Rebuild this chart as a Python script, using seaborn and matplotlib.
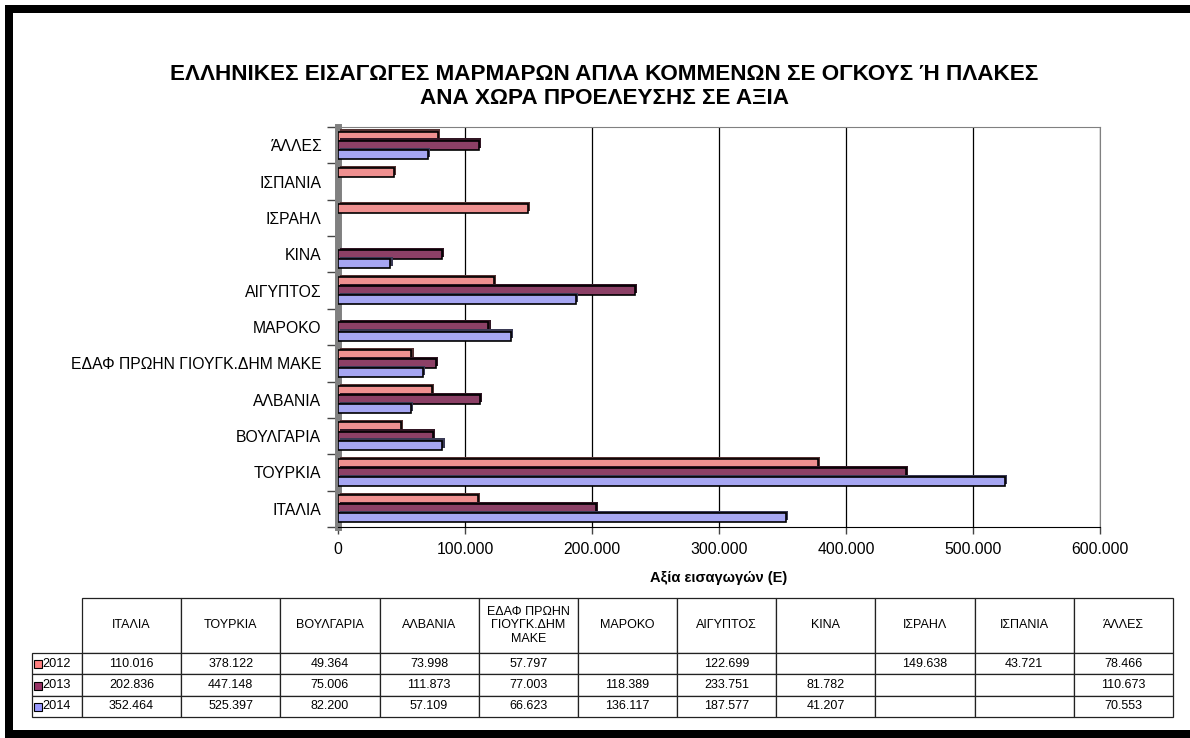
import numpy as np
import pandas as pd
import seaborn as sns
import matplotlib
matplotlib.use('Agg')
import matplotlib.pyplot as plt
import matplotlib.patheffects as pe
from matplotlib.patches import Rectangle
from matplotlib.ticker import FuncFormatter, FixedLocator

# data (from the table under the chart)
countries = ['ΙΤΑΛΙΑ', 'ΤΟΥΡΚΙΑ', 'ΒΟΥΛΓΑΡΙΑ', 'ΑΛΒΑΝΙΑ', 'ΕΔΑΦ ΠΡΩΗΝ ΓΙΟΥΓΚ.ΔΗΜ ΜΑΚΕ',
             'ΜΑΡΟΚΟ', 'ΑΙΓΥΠΤΟΣ', 'ΚΙΝΑ', 'ΙΣΡΑΗΛ', 'ΙΣΠΑΝΙΑ', 'ΆΛΛΕΣ']
header_labels = ['ΙΤΑΛΙΑ', 'ΤΟΥΡΚΙΑ', 'ΒΟΥΛΓΑΡΙΑ', 'ΑΛΒΑΝΙΑ', 'ΕΔΑΦ ΠΡΩΗΝ\nΓΙΟΥΓΚ.ΔΗΜ\nΜΑΚΕ',
                 'ΜΑΡΟΚΟ', 'ΑΙΓΥΠΤΟΣ', 'ΚΙΝΑ', 'ΙΣΡΑΗΛ', 'ΙΣΠΑΝΙΑ', 'ΆΛΛΕΣ']
years = ['2012', '2013', '2014']
v2012 = [110016, 378122, 49364, 73998, 57797, None, 122699, None, 149638, 43721, 78466]
v2013 = [202836, 447148, 75006, 111873, 77003, 118389, 233751, 81782, None, None, 110673]
v2014 = [352464, 525397, 82200, 57109, 66623, 136117, 187577, 41207, None, None, 70553]
x_ticks = [0, 100000, 200000, 300000, 400000, 500000, 600000]

colors = {'2012': '#FF8080', '2013': '#993366', '2014': '#9999FF'}

rows = []
for y, vals in zip(years, [v2012, v2013, v2014]):
    for c, v in zip(countries, vals):
        rows.append({'country': c, 'year': y, 'value': np.nan if v is None else v})
df = pd.DataFrame(rows)

sns.set_style('white')
plt.rcParams['font.family'] = ['Liberation Sans', 'DejaVu Sans']
for k in ['text.color', 'axes.labelcolor', 'xtick.color', 'ytick.color']:
    plt.rcParams[k] = 'black'


def gr_fmt(v):
    return f'{int(v):,}'.replace(',', '.')


W, H = 1190, 738
fig = plt.figure(figsize=(W / 100, H / 100), dpi=100)
ax = fig.add_axes([338 / W, 1 - 527 / H, 762 / W, 400 / H])

sns.barplot(data=df, x='value', y='country', hue='year', orient='h',
            order=countries[::-1], hue_order=years, palette=colors,
            width=0.75, edgecolor='black', linewidth=1.2, errorbar=None,
            legend=False, ax=ax)

# pseudo 3D look of the excel bars
for p in ax.patches:
    p.set_zorder(3)
    p.set_path_effects([pe.SimplePatchShadow(offset=(1.6, 1.6), alpha=1, rho=0.35),
                        pe.Normal()])

ax.set_xlim(0, 600000)
ax.xaxis.set_major_locator(FixedLocator(x_ticks))
ax.xaxis.set_major_formatter(FuncFormatter(lambda v, p: gr_fmt(v)))
ax.grid(axis='x', color='black', linewidth=0.9)
ax.set_axisbelow(True)

# category boundaries as ticks (excel style)
ax.set_yticks(np.arange(len(countries) + 1) - 0.5, minor=True)
ax.tick_params(axis='y', which='major', length=0, labelsize=11.3, pad=12)
ax.tick_params(axis='y', which='minor', length=8, width=1, color='#444444', left=True)
ax.tick_params(axis='x', length=5, width=1, color='#444444', bottom=True, labelsize=11.3, pad=6)

ax.spines['left'].set_color('#808080')
ax.spines['left'].set_linewidth(5)
ax.spines['top'].set_color('#808080')
ax.spines['right'].set_color('#808080')
ax.spines['bottom'].set_color('black')
ax.set_ylabel('')
ax.set_xlabel('Αξία εισαγωγών (Ε)', fontsize=10.5, fontweight='bold', labelpad=10)

fig.text(604 / W, 1 - 75 / H, 'ΕΛΛΗΝΙΚΕΣ ΕΙΣΑΓΩΓΕΣ ΜΑΡΜΑΡΩΝ ΑΠΛΑ ΚΟΜΜΕΝΩΝ ΣΕ ΟΓΚΟΥΣ Ή ΠΛΑΚΕΣ',
         ha='center', va='center', fontsize=16.2, fontweight='bold')
fig.text(605 / W, 1 - 98 / H, 'ΑΝΑ ΧΩΡΑ ΠΡΟΕΛΕΥΣΗΣ ΣΕ ΑΞΙΑ',
         ha='center', va='center', fontsize=16.2, fontweight='bold')

# data table, first column holds the year labels, the corner cell is hidden
TW, TH = 1141, 119
tax = fig.add_axes([32 / W, 1 - 717 / H, TW / W, TH / H])
tax.axis('off')
cell_text = [[y] + ['' if v is None else gr_fmt(v) for v in vals]
             for y, vals in zip(years, [v2012, v2013, v2014])]
tbl = tax.table(cellText=cell_text, colLabels=[''] + header_labels,
                cellLoc='center', colLoc='center', bbox=[0, 0, 1, 1])
tbl.auto_set_font_size(False)
tbl.set_fontsize(9)
for (r, c), cell in tbl.get_celld().items():
    cell.set_width((50 if c == 0 else 1091 / 11) / TW)
    cell.set_height((55 if r == 0 else 64 / 3) / TH)
    cell.set_edgecolor('#222222')
    cell.set_linewidth(0.9)
    if c == 0:
        cell._loc = 'right'
        cell.get_text().set_fontsize(9.2)
        if r == 0:
            cell.set_visible(False)

# legend keys in the year cells
row_centers = [664, 685.5, 707]
for y, yc in zip(years, row_centers):
    tax.add_patch(Rectangle((2 / TW, (717 - yc - 4) / TH), 7.5 / TW, 8 / TH,
                            transform=tax.transAxes, facecolor=colors[y],
                            edgecolor='black', linewidth=0.8, clip_on=False, zorder=5))

# outer black frame (left, top, bottom)
for x0, y0, w, h in [(5, 5, 8, 733), (5, 5, 1185, 8), (5, 730, 1185, 8)]:
    fig.patches.append(Rectangle((x0 / W, 1 - (y0 + h) / H), w / W, h / H,
                                 transform=fig.transFigure, facecolor='black',
                                 edgecolor='none'))

fig.savefig('out.png', dpi=100)
